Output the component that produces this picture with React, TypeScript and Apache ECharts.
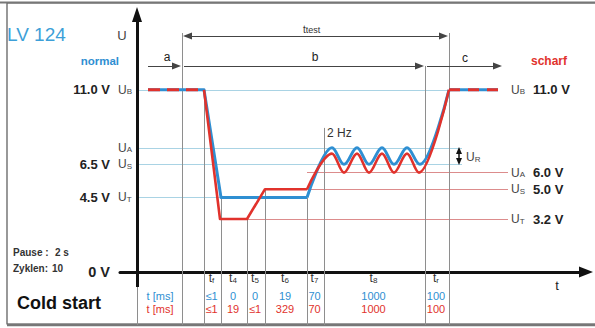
import { useEffect, useRef } from 'react';
import * as echarts from 'echarts';

const FONT = '"Liberation Sans Narrow", "Arial Narrow", "Liberation Sans", Arial, sans-serif';

// ---- curves (x: schematic time position, y: volts)
const blueMainT = [11, 67, 84, 170];
const blueMainU = [11, 11, 4.5, 4.5];
const blueWaveT = [170, 195, 207, 220, 232, 245, 257, 270, 283, 312];
const blueWaveU = [4.5, 7.5, 6.5, 7.5, 6.5, 7.5, 6.5, 7.5, 6.5, 11];
const blueTailT = [312, 361];
const blueTailU = [11, 11];

const redHeadT = [11, 67];
const redHeadU = [11, 11];
const redMainT = [67, 83, 110, 128, 170];
const redMainU = [11, 3.2, 3.2, 5.0, 5.0];
const redWaveT = [170, 195, 207, 220, 232, 245, 257, 270, 282, 312];
const redWaveU = [5.0, 7.15, 6.0, 7.15, 6.0, 7.15, 6.0, 7.15, 6.0, 11];
const redTailT = [312, 361];
const redTailU = [11, 11];

// ---- reference levels
const normalLevels = [11, 7.5, 6.5, 4.5];
const normalLevelEnd = [312, 325, 325, 170];
const normalSubs = ['B', 'A', 'S', 'T'];
const normalValues = ['11.0 V', '', '6.5 V', '4.5 V'];

const scharfLevels = [11, 6.0, 5.0, 3.2];
const scharfLevelStart = [-1, 170, 128, 110];
const scharfSubs = ['B', 'A', 'S', 'T'];
const scharfValues = ['11.0 V', '6.0 V', '5.0 V', '3.2 V'];
const scharfLineEnd = 371;

// ---- vertical phase markers
const markerT = [45, 67, 84, 110, 128, 170, 187, 288, 312];
const markerTop = [14.43, 11, 4.5, 3.2, 5.0, 4.5, 8.7, 12.44, 14.43];
const tableBottom = -3.2;

// ---- phase table
const phaseBounds = [67, 84, 110, 128, 170, 187, 288, 312];
const phaseSubs = ['f', '4', '5', '6', '7', '8', 'r'];
const normalMs = ['≤1', '0', '0', '19', '70', '1000', '100'];
const scharfMs = ['≤1', '19', '≤1', '329', '70', '1000', '100'];

// ---- span arrows
const ttestLevel = 14.25;
const rowLevel = 12.44;

const BLUE = '#2f8fd2';
const RED = '#e1322c';
const LBLUE = '#a9d3e4';
const LRED = '#dc8c8c';
const GRAY = '#8e8e8e';
const DARK = '#222';

const pts = (t: number[], u: number[]) => t.map((v, i) => [v, u[i]]);

export default function App() {
  const ref = useRef<HTMLDivElement>(null);
  useEffect(() => {
    const chart = echarts.init(ref.current!, undefined, { renderer: 'svg' });

    const solid = (color: string, width = 1) => ({ color, width, type: 'solid' as const });
    const seg = (a: number[], b: number[], style: any, s1 = 'none', s2 = 'none', size: number[] = [7, 9]) => [
      { coord: a, symbol: s1, symbolSize: size, lineStyle: style, itemStyle: { color: style.color } },
      { coord: b, symbol: s2, symbolSize: size, itemStyle: { color: style.color } },
    ];

    const marks: any[] = [];
    normalLevels.forEach((lv, i) => marks.push(seg([0, lv], [normalLevelEnd[i], lv], solid(LBLUE, 1.2))));
    scharfLevels.forEach((lv, i) => {
      if (scharfLevelStart[i] >= 0) marks.push(seg([scharfLevelStart[i], lv], [scharfLineEnd, lv], solid(LRED, 1)));
    });
    markerT.forEach((t, i) => marks.push(seg([t, markerTop[i]], [t, tableBottom], solid(GRAY, 1))));
    marks.push(seg([0, -0.9], [0, tableBottom], solid(GRAY, 1)));
    const arr = solid('#444', 1);
    marks.push(seg([50.5, ttestLevel], [306.5, ttestLevel], arr, 'triangle', 'triangle'));
    marks.push(seg([11, rowLevel], [39.5, rowLevel], arr, 'none', 'triangle'));
    marks.push(seg([47, rowLevel], [282.5, rowLevel], arr, 'none', 'triangle'));
    marks.push(seg([290, rowLevel], [360.5, rowLevel], arr, 'none', 'triangle'));
    marks.push(seg([322, 7.34], [322, 6.67], solid('#111', 1.5), 'triangle', 'triangle', [6, 7]));
    marks.push(seg([0, -0.9], [0, 15.55], solid('#111', 3), 'none', 'triangle', [10, 15]));

    const line = (data: number[][], color: string, width: number, extra: any = {}) => ({
      type: 'line',
      data,
      symbol: 'none',
      showSymbol: false,
      silent: true,
      z: 3,
      lineStyle: { color, width, cap: 'butt', join: 'round', ...(extra.lineStyle || {}) },
      smooth: extra.smooth || false,
      smoothMonotone: extra.smooth ? 'x' : undefined,
    });

    chart.setOption({
      animation: false,
      grid: { left: 120, right: 9, top: 7, bottom: 3 },
      xAxis: {
        type: 'value', min: -17, max: 449,
        axisLine: { show: true, onZero: true, symbol: ['none', 'triangle'], symbolSize: [11, 14], lineStyle: { color: '#111', width: 3 } },
        axisTick: { show: false }, axisLabel: { show: false }, splitLine: { show: false },
      },
      yAxis: {
        type: 'value', min: -3.2, max: 16,
        axisLine: { show: false }, axisTick: { show: false }, axisLabel: { show: false }, splitLine: { show: false },
      },
      series: [
        {
          type: 'line', data: [], silent: true,
          markLine: { silent: true, z: 1, animation: false, label: { show: false }, emphasis: { disabled: true }, data: marks },
        },
        line(pts(blueMainT, blueMainU), BLUE, 3),
        line(pts(blueWaveT, blueWaveU), BLUE, 3, { smooth: 0.36 }),
        line(pts(blueTailT, blueTailU), BLUE, 3),
        line(pts(redHeadT, redHeadU), RED, 3, { lineStyle: { type: [12, 7] } }),
        line(pts(redMainT, redMainU), RED, 2.6),
        line(pts(redWaveT, redWaveU), RED, 2.6, { smooth: 0.36 }),
        line(pts(redTailT, redTailU), RED, 3, { lineStyle: { type: [11, 8] } }),
      ],
    });

    const P = (x: number, y: number) => chart.convertToPixel({ gridIndex: 0 }, [x, y]) as number[];
    const txt = (x: number, y: number, text: string, o: any = {}) => ({
      type: 'text', x, y, silent: true, z: 10,
      style: {
        text, fontFamily: FONT, fontSize: 12, fill: DARK,
        align: o.align || 'left', textAlign: o.align || 'left',
        verticalAlign: 'middle', textVerticalAlign: 'middle', ...o,
      },
    });
    const sub = (x: number, y: number, main: string, s: string, color: string, sizes: number[], o: any = {}) =>
      txt(x, y, `{m|${main}}{s|${s}}`, {
        rich: {
          m: { fontSize: sizes[0], fontFamily: FONT, fill: color },
          s: { fontSize: sizes[1], fontFamily: FONT, fill: color, verticalAlign: 'bottom' },
        },
        ...o,
      });

    const g: any[] = [];
    g.push({ type: 'rect', silent: true, shape: { x: 7, y: 3, width: 590, height: 321 }, style: { fill: 'none', stroke: '#555', lineWidth: 1.2 } });
    g.push({ type: 'line', silent: true, shape: { x1: 0, y1: 2.5, x2: 595, y2: 2.5 }, style: { stroke: '#777', lineWidth: 2 } });
    g.push({ type: 'line', silent: true, shape: { x1: 7, y1: 325, x2: 595, y2: 325 }, style: { stroke: '#777', lineWidth: 2.5 } });

    g.push(txt(7, 34, 'LV 124', { fontSize: 19, fill: '#3d9fd8', fontFamily: '"Liberation Sans", Arial, sans-serif' }));
    g.push(txt(122, 35, 'U', { align: 'center', fontSize: 13, fill: '#444' }));
    g.push(txt(119, 61, 'normal', { align: 'right', fontSize: 11.5, fontWeight: 'bold', fill: BLUE }));
    normalLevels.forEach((lv, i) => {
      const y = P(0, lv)[1];
      g.push(sub(118, y, 'U', normalSubs[i], '#444', [12, 8]));
      if (normalValues[i]) g.push(txt(110, y, normalValues[i], { align: 'right', fontSize: 13, fontWeight: 'bold' }));
    });
    g.push(txt(110, P(0, 0)[1], '0 V', { align: 'right', fontSize: 14.5, fontWeight: 'bold' }));
    g.push(txt(13, 252, 'Pause :', { fontSize: 10, fontWeight: 'bold', fill: '#333' }));
    g.push(txt(55, 252, '2 s', { fontSize: 10, fontWeight: 'bold', fill: '#333' }));
    g.push(txt(13, 268, 'Zyklen:', { fontSize: 10, fontWeight: 'bold', fill: '#333' }));
    g.push(txt(52, 268, '10', { fontSize: 10, fontWeight: 'bold', fill: '#333' }));
    g.push(txt(17, 303, 'Cold start', { fontSize: 18, fontWeight: 'bold', fill: '#111', fontFamily: '"Liberation Sans", Arial, sans-serif' }));
    g.push(txt(160, 296, 't [ms]', { align: 'center', fontSize: 11, fill: BLUE }));
    g.push(txt(160, 309, 't [ms]', { align: 'center', fontSize: 11, fill: RED }));
    g.push(txt(557, 285, 't', { align: 'center', fontSize: 13 }));

    for (let i = 0; i < phaseSubs.length; i++) {
      const cx = P((phaseBounds[i] + phaseBounds[i + 1]) / 2, 0)[0] - 1;
      g.push(sub(cx, 278, 't', phaseSubs[i], '#333', [12, 8], { align: 'center' }));
      g.push(txt(cx, 296, normalMs[i], { align: 'center', fontSize: 11, fill: BLUE }));
      g.push(txt(cx, 309, scharfMs[i], { align: 'center', fontSize: 11, fill: RED }));
    }

    g.push(sub(303, 29, 't', 'test', '#333', [10, 9]));
    g.push(txt(167, 57, 'a', { align: 'center' }));
    g.push(txt(315, 57, 'b', { align: 'center' }));
    g.push(txt(465, 58, 'c', { align: 'center' }));

    g.push(txt(531, 61, 'scharf', { fontSize: 12, fontWeight: 'bold', fill: RED }));
    scharfLevels.forEach((lv, i) => {
      const y = P(0, lv)[1];
      g.push(sub(511, y, 'U', scharfSubs[i], '#444', [12, 8]));
      g.push(txt(533, y, scharfValues[i], { fontSize: 13, fontWeight: 'bold' }));
    });
    g.push(txt(327, 133, '2 Hz', { fontSize: 12, fill: '#333' }));
    g.push(sub(466, 157, 'U', 'R', '#444', [12, 8]));

    chart.setOption({ graphic: { elements: g } });
    return () => chart.dispose();
  }, []);
  return <div ref={ref} style={{ position: 'fixed', left: 0, top: 0, width: 595, height: 328, background: '#fff' }} />;
}
